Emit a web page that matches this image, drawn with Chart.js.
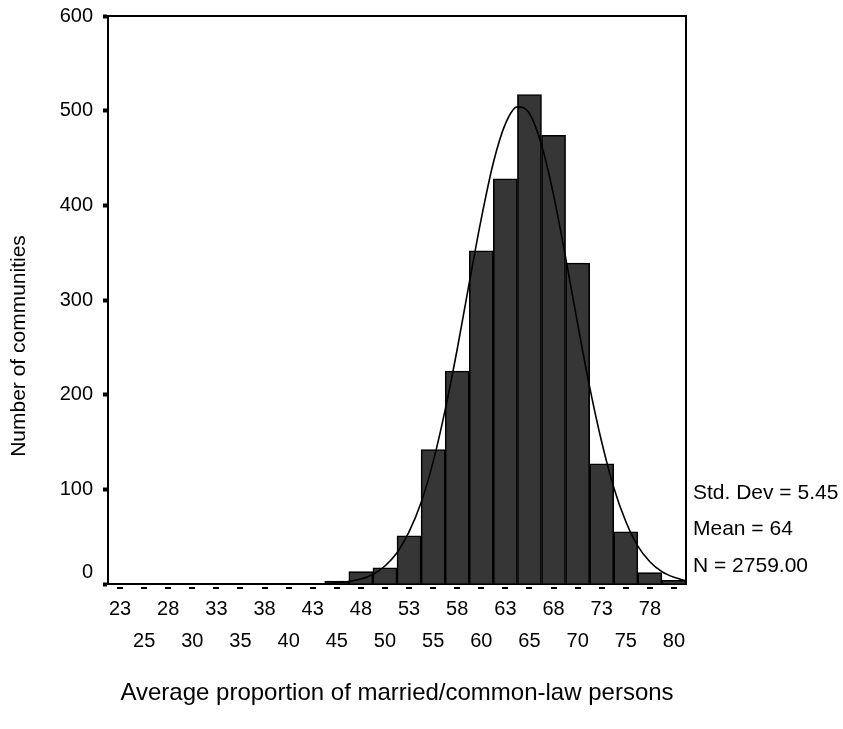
<!DOCTYPE html>
<html>
<head>
<meta charset="utf-8">
<script src="https://cdn.jsdelivr.net/npm/chart.js@4/dist/chart.umd.min.js"></script>
<style>
  html, body { margin: 0; padding: 0; background: #fff; }
  #wrap { width: 843px; height: 729px; position: relative; }
</style>
</head>
<body>
<div id="wrap"><canvas id="histChart"></canvas></div>
<script>
// bin centres (width 2.5) and counts
const binCenters = [22.5, 25, 27.5, 30, 32.5, 35, 37.5, 40, 42.5, 45, 47.5, 50,
                    52.5, 55, 57.5, 60, 62.5, 65, 67.5, 70, 72.5, 75, 77.5, 80];
const binCounts  = [0, 0, 0, 0, 0, 0, 0, 0, 0, 3, 13, 17,
                    51, 142, 225, 352, 428, 517, 474, 339, 127, 55, 12, 4];
const tickLabels = ['23', '25', '28', '30', '33', '35', '38', '40', '43', '45', '48', '50',
                    '53', '55', '58', '60', '63', '65', '68', '70', '73', '75', '78', '80'];

// normal curve, points
const curveX = [43.75, 45, 46.25, 47.5, 48.75, 50, 51.25, 52.5, 53.75, 55, 56.25, 57.5,
                58.75, 60, 61.25, 62.5, 63.75, 65, 66.25, 67.5, 68.75, 70, 71.25, 72.5,
                73.75, 75, 76.25, 77.5, 78.75, 80, 81.25];
const curveY = [0.5, 1.2, 2.5, 5.2, 10, 19, 33, 55, 86, 129, 184, 248,
                318, 386, 445, 486, 504, 497, 464, 411, 345, 275, 208, 150,
                102, 66, 40, 23.5, 13, 7, 3.4];

const statLines = ['Std. Dev = 5.45', 'Mean = 64', 'N = 2759.00'];
const xTitle = 'Average proportion of married/common-law persons';
const yTitle = 'Number of communities';

const FONT = "'Liberation Sans', Arial, sans-serif";

const extras = {
    id: 'extras',
    afterDatasetsDraw(chart) {
        const c = chart.ctx, a = chart.chartArea, xs = chart.scales.x;
        c.save();
        // frame top/right
        c.strokeStyle = '#000';
        c.lineWidth = 2;
        c.beginPath();
        c.moveTo(a.left, a.top);
        c.lineTo(a.right, a.top);
        c.lineTo(a.right, a.bottom);
        c.stroke();
        // small dashes under the x axis at each bin centre
        c.fillStyle = '#000';
        binCenters.forEach(v => {
            const px = Math.round(xs.getPixelForValue(v));
            c.fillRect(px - 3, a.bottom + 3, 6, 2);
        });
        c.restore();
    },
    afterDraw(chart) {
        const c = chart.ctx, a = chart.chartArea;
        c.save();
        c.fillStyle = '#000';
        c.textBaseline = 'middle';
        c.font = '21px ' + FONT;
        c.textAlign = 'left';
        statLines.forEach((t, i) => c.fillText(t, a.right + 7, 493 + i * 36.5));
        c.font = '24px ' + FONT;
        c.textAlign = 'center';
        c.fillText(xTitle, (a.left + a.right) / 2, 693);
        c.translate(19, 346);
        c.rotate(-Math.PI / 2);
        c.font = '21px ' + FONT;
        c.fillText(yTitle, 0, 0);
        c.restore();
    }
};

const histChart = new Chart(document.getElementById('histChart'), {
    type: 'bar',
    data: {
        datasets: [{
            type: 'line',
            data: curveX.map((x, i) => ({ x: x, y: curveY[i] })),
            borderColor: '#000',
            borderWidth: 1.6,
            pointRadius: 0,
            fill: false,
            cubicInterpolationMode: 'monotone',
            order: 0
        }, {
            type: 'bar',
            data: binCenters.map((x, i) => ({ x: x, y: binCounts[i] })),
            backgroundColor: '#363636',
            borderColor: '#000',
            borderWidth: 1.6,
            borderSkipped: 'start',
            barPercentage: 1,
            categoryPercentage: 1,
            order: 1
        }]
    },
    options: {
        responsive: true,
        maintainAspectRatio: false,
        animation: false,
        layout: { padding: { left: 0, right: 157, top: 16, bottom: 0 } },
        plugins: { legend: { display: false }, tooltip: { enabled: false } },
        scales: {
            x: {
                type: 'linear',
                offset: false,
                min: 21.25,
                max: 81.25,
                afterBuildTicks: scale => { scale.ticks = binCenters.map(v => ({ value: v })); },
                afterFit: scale => { scale.height = 145; },
                grid: { display: false },
                border: { display: true, color: '#000', width: 2 },
                ticks: {
                    autoSkip: false,
                    maxRotation: 0,
                    padding: 1,
                    color: '#000',
                    font: { family: FONT, size: 20, lineHeight: 1.6 },
                    callback: (value, index) => index % 2 === 0 ? tickLabels[index] : ['', tickLabels[index]]
                }
            },
            y: {
                min: 0,
                max: 600,
                afterFit: scale => {
                    scale.width = 108;
                    scale.paddingTop = 0;
                    scale.paddingBottom = 0;
                },
                grid: {
                    drawOnChartArea: false,
                    drawTicks: true,
                    tickLength: 5,
                    tickWidth: 4,
                    tickColor: '#000'
                },
                border: { display: true, color: '#000', width: 2 },
                ticks: {
                    stepSize: 100,
                    padding: 10,
                    color: '#000',
                    font: { family: FONT, size: 20, lineHeight: 1.15 },
                    callback: v => v === 0 ? ['0', ''] : String(v)
                }
            }
        }
    },
    plugins: [extras]
});
</script>
</body>
</html>
